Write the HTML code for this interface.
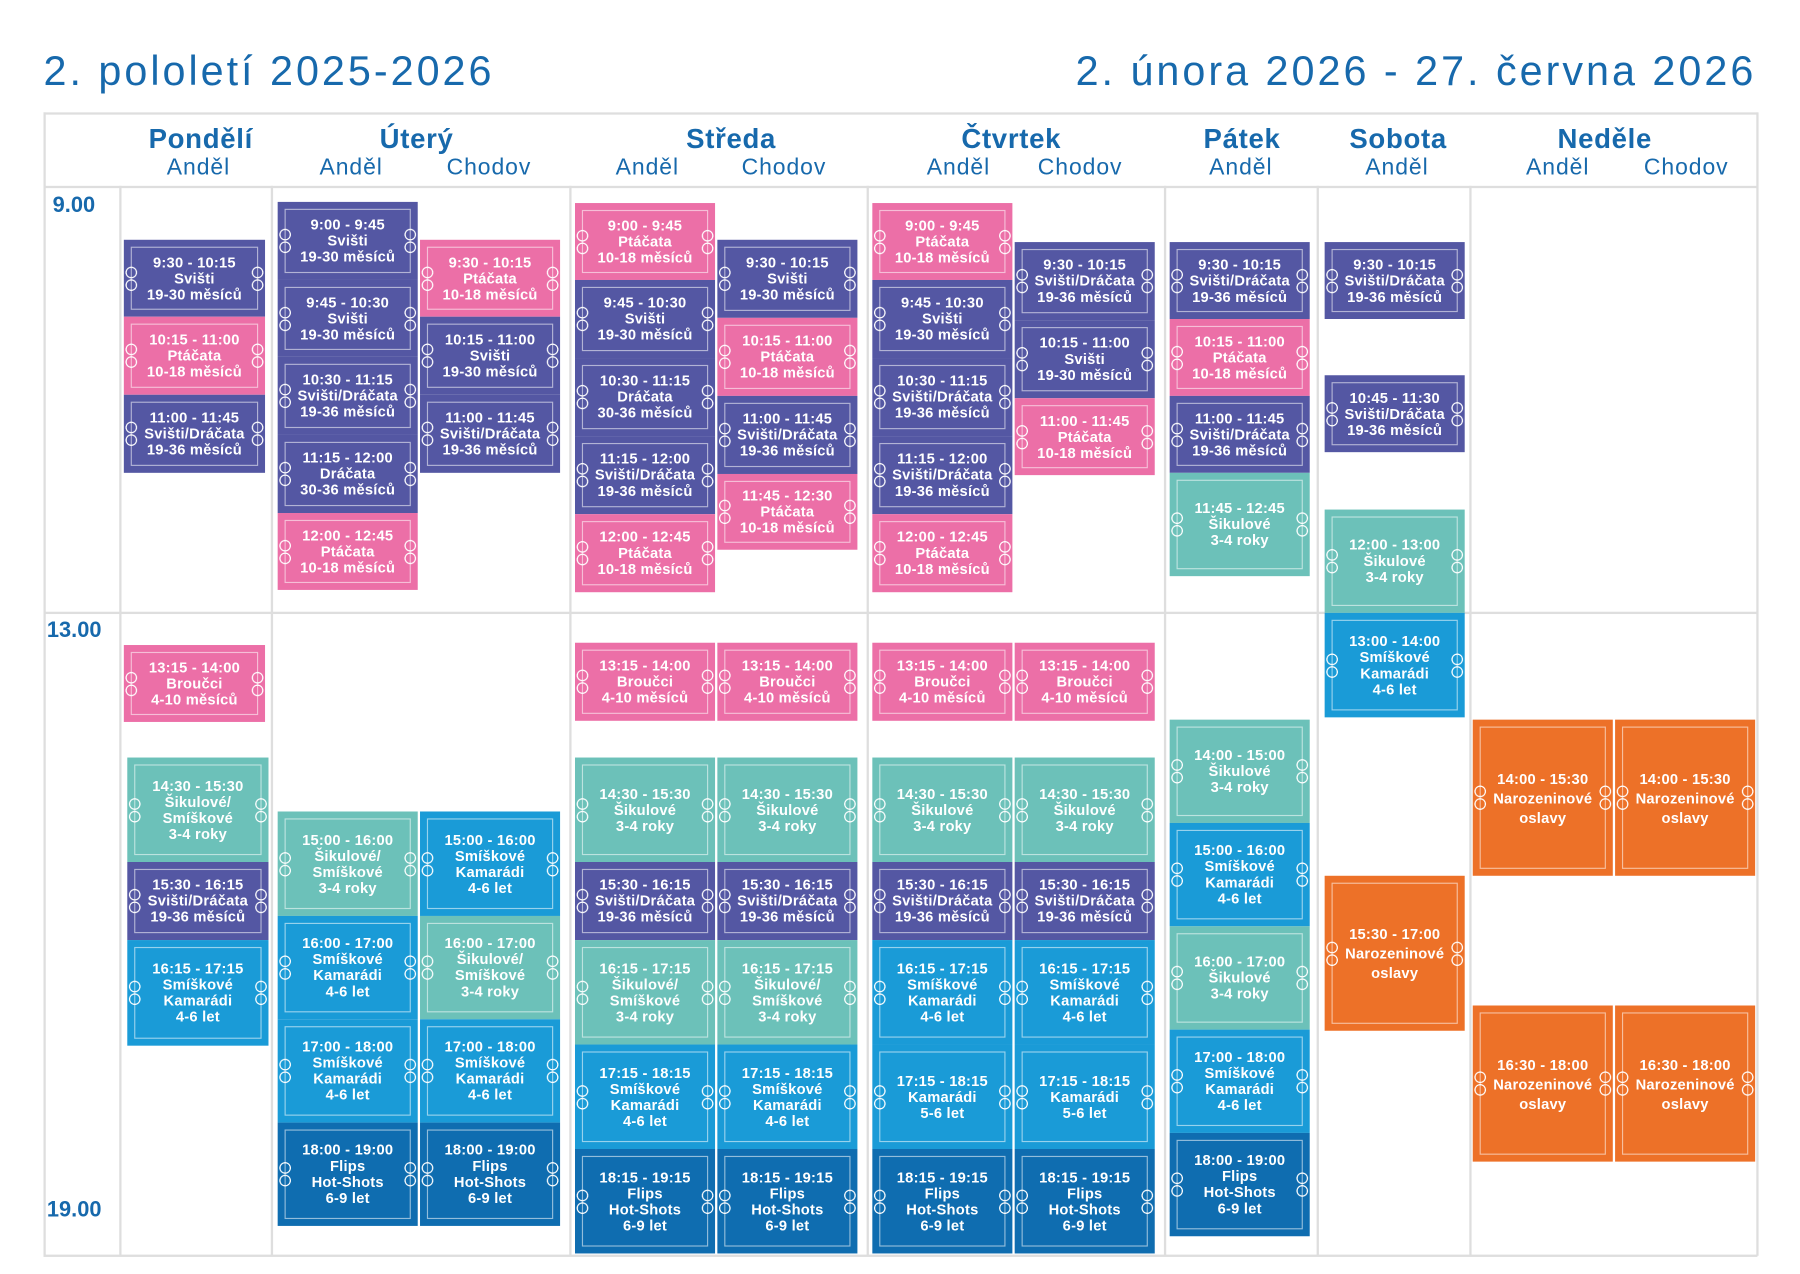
<!DOCTYPE html>
<html><head><meta charset="utf-8">
<style>
html,body{margin:0;padding:0;background:#fff;}
body{width:1800px;height:1273px;overflow:hidden;position:relative;font-family:"Liberation Sans",sans-serif;}
#w{position:absolute;left:0.5px;top:0.5px;width:1568px;height:1109px;transform:scale(1.148);transform-origin:0 0;}
.t{position:absolute;color:#1769ac;white-space:nowrap;}
.h1{font-size:36px;top:40px;letter-spacing:2.6px;}
.dn{font-weight:bold;font-size:24px;top:107px;transform:translateX(-50%);letter-spacing:0.6px;}
.ln{font-size:20px;top:134px;transform:translateX(-50%);letter-spacing:0.8px;}
.tm{font-weight:bold;font-size:19px;}
.ln2{position:absolute;background:#dedede;}
.b{position:absolute;color:#fff;font-weight:bold;font-size:12.8px;line-height:14px;letter-spacing:0.2px;text-align:center;display:flex;align-items:center;justify-content:center;box-sizing:border-box;}
.b::before{content:"";position:absolute;left:6px;right:6px;top:6px;bottom:6px;border:1px solid rgba(255,255,255,0.55);}
.b i{position:absolute;top:50%;margin-top:-11px;width:11px;height:22px;background:radial-gradient(circle at 5.5px 5.5px,transparent 3.9px,#fff 4.1px,#fff 4.9px,transparent 5.2px) 0 0/11px 11px repeat-y;}
.b i.l{left:1px}.b i.r{right:1px}
.b span{position:relative;z-index:1;}
.p{background:#5457a3}.k{background:#ec6fa7}.q{background:#6cc1b9}.L{background:#1a9bd7}.d{background:#0f6db0}.o{background:#ed7128}
.o{font-size:12.8px;line-height:17px}
</style></head><body>
<div id="w">
<div class="t h1" style="left:37px">2. pololetí 2025-2026</div>
<div class="t h1" style="right:39px">2. února 2026 - 27. června 2026</div>

<div class="ln2" style="left:37px;top:97px;width:1493px;height:1.5px"></div>
<div class="ln2" style="left:37px;top:1092px;width:1493px;height:1.5px"></div>
<div class="ln2" style="left:37px;top:97px;width:1.5px;height:996px"></div>
<div class="ln2" style="left:1529px;top:97px;width:1.5px;height:996px"></div>
<div class="ln2" style="left:37px;top:161px;width:1493px;height:1.5px"></div>
<div class="ln2" style="left:37px;top:532px;width:1493px;height:1.5px"></div>
<div class="ln2" style="left:103px;top:161px;width:1.5px;height:932px"></div>
<div class="ln2" style="left:235px;top:161px;width:1.5px;height:932px"></div>
<div class="ln2" style="left:495px;top:161px;width:1.5px;height:932px"></div>
<div class="ln2" style="left:754px;top:161px;width:1.5px;height:932px"></div>
<div class="ln2" style="left:1013px;top:161px;width:1.5px;height:932px"></div>
<div class="ln2" style="left:1146px;top:161px;width:1.5px;height:932px"></div>
<div class="ln2" style="left:1279px;top:161px;width:1.5px;height:932px"></div>

<div class="t dn" style="left:174px">Pondělí</div>
<div class="t dn" style="left:362px">Úterý</div>
<div class="t dn" style="left:636px">Středa</div>
<div class="t dn" style="left:880px">Čtvrtek</div>
<div class="t dn" style="left:1081px">Pátek</div>
<div class="t dn" style="left:1217px">Sobota</div>
<div class="t dn" style="left:1397px">Neděle</div>
<div class="t ln" style="left:172px">Anděl</div>
<div class="t ln" style="left:305px">Anděl</div>
<div class="t ln" style="left:425px">Chodov</div>
<div class="t ln" style="left:563px">Anděl</div>
<div class="t ln" style="left:682px">Chodov</div>
<div class="t ln" style="left:834px">Anděl</div>
<div class="t ln" style="left:940px">Chodov</div>
<div class="t ln" style="left:1080px">Anděl</div>
<div class="t ln" style="left:1216px">Anděl</div>
<div class="t ln" style="left:1356px">Anděl</div>
<div class="t ln" style="left:1468px">Chodov</div>

<div class="t tm" style="left:45px;top:168px">9.00</div>
<div class="t tm" style="left:40px;top:538px">13.00</div>
<div class="t tm" style="left:40px;top:1043px">19.00</div>

<!-- Pondělí -->
<div class="b p" style="left:107px;top:208px;width:123px;height:67px"><i class="l"></i><i class="r"></i><span>9:30 - 10:15<br>Svišti<br>19-30 měsíců</span></div>
<div class="b k" style="left:107px;top:275px;width:123px;height:68px"><i class="l"></i><i class="r"></i><span>10:15 - 11:00<br>Ptáčata<br>10-18 měsíců</span></div>
<div class="b p" style="left:107px;top:343px;width:123px;height:68px"><i class="l"></i><i class="r"></i><span>11:00 - 11:45<br>Svišti/Dráčata<br>19-36 měsíců</span></div>
<div class="b k" style="left:107px;top:561px;width:123px;height:67px"><i class="l"></i><i class="r"></i><span>13:15 - 14:00<br>Broučci<br>4-10 měsíců</span></div>
<div class="b q" style="left:110px;top:659px;width:123px;height:91px"><i class="l"></i><i class="r"></i><span>14:30 - 15:30<br>Šikulové/<br>Smíškové<br>3-4 roky</span></div>
<div class="b p" style="left:110px;top:750px;width:123px;height:68px"><i class="l"></i><i class="r"></i><span>15:30 - 16:15<br>Svišti/Dráčata<br>19-36 měsíců</span></div>
<div class="b L" style="left:110px;top:818px;width:123px;height:92px"><i class="l"></i><i class="r"></i><span>16:15 - 17:15<br>Smíškové<br>Kamarádi<br>4-6 let</span></div>

<!-- Úterý Anděl -->
<div class="b p" style="left:241px;top:175px;width:122px;height:68px"><i class="l"></i><i class="r"></i><span>9:00 - 9:45<br>Svišti<br>19-30 měsíců</span></div>
<div class="b p" style="left:241px;top:243px;width:122px;height:67px"><i class="l"></i><i class="r"></i><span>9:45 - 10:30<br>Svišti<br>19-30 měsíců</span></div>
<div class="b p" style="left:241px;top:310px;width:122px;height:68px"><i class="l"></i><i class="r"></i><span>10:30 - 11:15<br>Svišti/Dráčata<br>19-36 měsíců</span></div>
<div class="b p" style="left:241px;top:378px;width:122px;height:68px"><i class="l"></i><i class="r"></i><span>11:15 - 12:00<br>Dráčata<br>30-36 měsíců</span></div>
<div class="b k" style="left:241px;top:446px;width:122px;height:67px"><i class="l"></i><i class="r"></i><span>12:00 - 12:45<br>Ptáčata<br>10-18 měsíců</span></div>
<div class="b q" style="left:241px;top:706px;width:122px;height:91px"><i class="l"></i><i class="r"></i><span>15:00 - 16:00<br>Šikulové/<br>Smíškové<br>3-4 roky</span></div>
<div class="b L" style="left:241px;top:797px;width:122px;height:90px"><i class="l"></i><i class="r"></i><span>16:00 - 17:00<br>Smíškové<br>Kamarádi<br>4-6 let</span></div>
<div class="b L" style="left:241px;top:887px;width:122px;height:90px"><i class="l"></i><i class="r"></i><span>17:00 - 18:00<br>Smíškové<br>Kamarádi<br>4-6 let</span></div>
<div class="b d" style="left:241px;top:977px;width:122px;height:90px"><i class="l"></i><i class="r"></i><span>18:00 - 19:00<br>Flips<br>Hot-Shots<br>6-9 let</span></div>
<!-- Úterý Chodov -->
<div class="b k" style="left:365px;top:208px;width:122px;height:67px"><i class="l"></i><i class="r"></i><span>9:30 - 10:15<br>Ptáčata<br>10-18 měsíců</span></div>
<div class="b p" style="left:365px;top:275px;width:122px;height:68px"><i class="l"></i><i class="r"></i><span>10:15 - 11:00<br>Svišti<br>19-30 měsíců</span></div>
<div class="b p" style="left:365px;top:343px;width:122px;height:68px"><i class="l"></i><i class="r"></i><span>11:00 - 11:45<br>Svišti/Dráčata<br>19-36 měsíců</span></div>
<div class="b L" style="left:365px;top:706px;width:122px;height:91px"><i class="l"></i><i class="r"></i><span>15:00 - 16:00<br>Smíškové<br>Kamarádi<br>4-6 let</span></div>
<div class="b q" style="left:365px;top:797px;width:122px;height:90px"><i class="l"></i><i class="r"></i><span>16:00 - 17:00<br>Šikulové/<br>Smíškové<br>3-4 roky</span></div>
<div class="b L" style="left:365px;top:887px;width:122px;height:90px"><i class="l"></i><i class="r"></i><span>17:00 - 18:00<br>Smíškové<br>Kamarádi<br>4-6 let</span></div>
<div class="b d" style="left:365px;top:977px;width:122px;height:90px"><i class="l"></i><i class="r"></i><span>18:00 - 19:00<br>Flips<br>Hot-Shots<br>6-9 let</span></div>

<!-- Středa Anděl -->
<div class="b k" style="left:500px;top:176px;width:122px;height:67px"><i class="l"></i><i class="r"></i><span>9:00 - 9:45<br>Ptáčata<br>10-18 měsíců</span></div>
<div class="b p" style="left:500px;top:243px;width:122px;height:68px"><i class="l"></i><i class="r"></i><span>9:45 - 10:30<br>Svišti<br>19-30 měsíců</span></div>
<div class="b p" style="left:500px;top:311px;width:122px;height:68px"><i class="l"></i><i class="r"></i><span>10:30 - 11:15<br>Dráčata<br>30-36 měsíců</span></div>
<div class="b p" style="left:500px;top:379px;width:122px;height:68px"><i class="l"></i><i class="r"></i><span>11:15 - 12:00<br>Svišti/Dráčata<br>19-36 měsíců</span></div>
<div class="b k" style="left:500px;top:447px;width:122px;height:68px"><i class="l"></i><i class="r"></i><span>12:00 - 12:45<br>Ptáčata<br>10-18 měsíců</span></div>
<div class="b k" style="left:500px;top:559px;width:122px;height:68px"><i class="l"></i><i class="r"></i><span>13:15 - 14:00<br>Broučci<br>4-10 měsíců</span></div>
<div class="b q" style="left:500px;top:659px;width:122px;height:91px"><i class="l"></i><i class="r"></i><span>14:30 - 15:30<br>Šikulové<br>3-4 roky</span></div>
<div class="b p" style="left:500px;top:750px;width:122px;height:68px"><i class="l"></i><i class="r"></i><span>15:30 - 16:15<br>Svišti/Dráčata<br>19-36 měsíců</span></div>
<div class="b q" style="left:500px;top:818px;width:122px;height:91px"><i class="l"></i><i class="r"></i><span>16:15 - 17:15<br>Šikulové/<br>Smíškové<br>3-4 roky</span></div>
<div class="b L" style="left:500px;top:909px;width:122px;height:91px"><i class="l"></i><i class="r"></i><span>17:15 - 18:15<br>Smíškové<br>Kamarádi<br>4-6 let</span></div>
<div class="b d" style="left:500px;top:1000px;width:122px;height:91px"><i class="l"></i><i class="r"></i><span>18:15 - 19:15<br>Flips<br>Hot-Shots<br>6-9 let</span></div>
<!-- Středa Chodov -->
<div class="b p" style="left:624px;top:208px;width:122px;height:68px"><i class="l"></i><i class="r"></i><span>9:30 - 10:15<br>Svišti<br>19-30 měsíců</span></div>
<div class="b k" style="left:624px;top:276px;width:122px;height:68px"><i class="l"></i><i class="r"></i><span>10:15 - 11:00<br>Ptáčata<br>10-18 měsíců</span></div>
<div class="b p" style="left:624px;top:344px;width:122px;height:68px"><i class="l"></i><i class="r"></i><span>11:00 - 11:45<br>Svišti/Dráčata<br>19-36 měsíců</span></div>
<div class="b k" style="left:624px;top:412px;width:122px;height:66px"><i class="l"></i><i class="r"></i><span>11:45 - 12:30<br>Ptáčata<br>10-18 měsíců</span></div>
<div class="b k" style="left:624px;top:559px;width:122px;height:68px"><i class="l"></i><i class="r"></i><span>13:15 - 14:00<br>Broučci<br>4-10 měsíců</span></div>
<div class="b q" style="left:624px;top:659px;width:122px;height:91px"><i class="l"></i><i class="r"></i><span>14:30 - 15:30<br>Šikulové<br>3-4 roky</span></div>
<div class="b p" style="left:624px;top:750px;width:122px;height:68px"><i class="l"></i><i class="r"></i><span>15:30 - 16:15<br>Svišti/Dráčata<br>19-36 měsíců</span></div>
<div class="b q" style="left:624px;top:818px;width:122px;height:91px"><i class="l"></i><i class="r"></i><span>16:15 - 17:15<br>Šikulové/<br>Smíškové<br>3-4 roky</span></div>
<div class="b L" style="left:624px;top:909px;width:122px;height:91px"><i class="l"></i><i class="r"></i><span>17:15 - 18:15<br>Smíškové<br>Kamarádi<br>4-6 let</span></div>
<div class="b d" style="left:624px;top:1000px;width:122px;height:91px"><i class="l"></i><i class="r"></i><span>18:15 - 19:15<br>Flips<br>Hot-Shots<br>6-9 let</span></div>

<!-- Čtvrtek Anděl -->
<div class="b k" style="left:759px;top:176px;width:122px;height:67px"><i class="l"></i><i class="r"></i><span>9:00 - 9:45<br>Ptáčata<br>10-18 měsíců</span></div>
<div class="b p" style="left:759px;top:243px;width:122px;height:68px"><i class="l"></i><i class="r"></i><span>9:45 - 10:30<br>Svišti<br>19-30 měsíců</span></div>
<div class="b p" style="left:759px;top:311px;width:122px;height:68px"><i class="l"></i><i class="r"></i><span>10:30 - 11:15<br>Svišti/Dráčata<br>19-36 měsíců</span></div>
<div class="b p" style="left:759px;top:379px;width:122px;height:68px"><i class="l"></i><i class="r"></i><span>11:15 - 12:00<br>Svišti/Dráčata<br>19-36 měsíců</span></div>
<div class="b k" style="left:759px;top:447px;width:122px;height:68px"><i class="l"></i><i class="r"></i><span>12:00 - 12:45<br>Ptáčata<br>10-18 měsíců</span></div>
<div class="b k" style="left:759px;top:559px;width:122px;height:68px"><i class="l"></i><i class="r"></i><span>13:15 - 14:00<br>Broučci<br>4-10 měsíců</span></div>
<div class="b q" style="left:759px;top:659px;width:122px;height:91px"><i class="l"></i><i class="r"></i><span>14:30 - 15:30<br>Šikulové<br>3-4 roky</span></div>
<div class="b p" style="left:759px;top:750px;width:122px;height:68px"><i class="l"></i><i class="r"></i><span>15:30 - 16:15<br>Svišti/Dráčata<br>19-36 měsíců</span></div>
<div class="b L" style="left:759px;top:818px;width:122px;height:91px"><i class="l"></i><i class="r"></i><span>16:15 - 17:15<br>Smíškové<br>Kamarádi<br>4-6 let</span></div>
<div class="b L" style="left:759px;top:909px;width:122px;height:91px"><i class="l"></i><i class="r"></i><span>17:15 - 18:15<br>Kamarádi<br>5-6 let</span></div>
<div class="b d" style="left:759px;top:1000px;width:122px;height:91px"><i class="l"></i><i class="r"></i><span>18:15 - 19:15<br>Flips<br>Hot-Shots<br>6-9 let</span></div>
<!-- Čtvrtek Chodov -->
<div class="b p" style="left:883px;top:210px;width:122px;height:68px"><i class="l"></i><i class="r"></i><span>9:30 - 10:15<br>Svišti/Dráčata<br>19-36 měsíců</span></div>
<div class="b p" style="left:883px;top:278px;width:122px;height:68px"><i class="l"></i><i class="r"></i><span>10:15 - 11:00<br>Svišti<br>19-30 měsíců</span></div>
<div class="b k" style="left:883px;top:346px;width:122px;height:67px"><i class="l"></i><i class="r"></i><span>11:00 - 11:45<br>Ptáčata<br>10-18 měsíců</span></div>
<div class="b k" style="left:883px;top:559px;width:122px;height:68px"><i class="l"></i><i class="r"></i><span>13:15 - 14:00<br>Broučci<br>4-10 měsíců</span></div>
<div class="b q" style="left:883px;top:659px;width:122px;height:91px"><i class="l"></i><i class="r"></i><span>14:30 - 15:30<br>Šikulové<br>3-4 roky</span></div>
<div class="b p" style="left:883px;top:750px;width:122px;height:68px"><i class="l"></i><i class="r"></i><span>15:30 - 16:15<br>Svišti/Dráčata<br>19-36 měsíců</span></div>
<div class="b L" style="left:883px;top:818px;width:122px;height:91px"><i class="l"></i><i class="r"></i><span>16:15 - 17:15<br>Smíškové<br>Kamarádi<br>4-6 let</span></div>
<div class="b L" style="left:883px;top:909px;width:122px;height:91px"><i class="l"></i><i class="r"></i><span>17:15 - 18:15<br>Kamarádi<br>5-6 let</span></div>
<div class="b d" style="left:883px;top:1000px;width:122px;height:91px"><i class="l"></i><i class="r"></i><span>18:15 - 19:15<br>Flips<br>Hot-Shots<br>6-9 let</span></div>

<!-- Pátek -->
<div class="b p" style="left:1018px;top:210px;width:122px;height:67px"><i class="l"></i><i class="r"></i><span>9:30 - 10:15<br>Svišti/Dráčata<br>19-36 měsíců</span></div>
<div class="b k" style="left:1018px;top:277px;width:122px;height:67px"><i class="l"></i><i class="r"></i><span>10:15 - 11:00<br>Ptáčata<br>10-18 měsíců</span></div>
<div class="b p" style="left:1018px;top:344px;width:122px;height:67px"><i class="l"></i><i class="r"></i><span>11:00 - 11:45<br>Svišti/Dráčata<br>19-36 měsíců</span></div>
<div class="b q" style="left:1018px;top:411px;width:122px;height:90px"><i class="l"></i><i class="r"></i><span>11:45 - 12:45<br>Šikulové<br>3-4 roky</span></div>
<div class="b q" style="left:1018px;top:626px;width:122px;height:90px"><i class="l"></i><i class="r"></i><span>14:00 - 15:00<br>Šikulové<br>3-4 roky</span></div>
<div class="b L" style="left:1018px;top:716px;width:122px;height:90px"><i class="l"></i><i class="r"></i><span>15:00 - 16:00<br>Smíškové<br>Kamarádi<br>4-6 let</span></div>
<div class="b q" style="left:1018px;top:806px;width:122px;height:90px"><i class="l"></i><i class="r"></i><span>16:00 - 17:00<br>Šikulové<br>3-4 roky</span></div>
<div class="b L" style="left:1018px;top:896px;width:122px;height:90px"><i class="l"></i><i class="r"></i><span>17:00 - 18:00<br>Smíškové<br>Kamarádi<br>4-6 let</span></div>
<div class="b d" style="left:1018px;top:986px;width:122px;height:90px"><i class="l"></i><i class="r"></i><span>18:00 - 19:00<br>Flips<br>Hot-Shots<br>6-9 let</span></div>

<!-- Sobota -->
<div class="b p" style="left:1153px;top:210px;width:122px;height:67px"><i class="l"></i><i class="r"></i><span>9:30 - 10:15<br>Svišti/Dráčata<br>19-36 měsíců</span></div>
<div class="b p" style="left:1153px;top:326px;width:122px;height:67px"><i class="l"></i><i class="r"></i><span>10:45 - 11:30<br>Svišti/Dráčata<br>19-36 měsíců</span></div>
<div class="b q" style="left:1153px;top:443px;width:122px;height:90px"><i class="l"></i><i class="r"></i><span>12:00 - 13:00<br>Šikulové<br>3-4 roky</span></div>
<div class="b L" style="left:1153px;top:533px;width:122px;height:91px"><i class="l"></i><i class="r"></i><span>13:00 - 14:00<br>Smíškové<br>Kamarádi<br>4-6 let</span></div>
<div class="b o" style="left:1153px;top:762px;width:122px;height:135px"><i class="l"></i><i class="r"></i><span>15:30 - 17:00<br>Narozeninové<br>oslavy</span></div>

<!-- Neděle -->
<div class="b o" style="left:1282px;top:626px;width:122px;height:136px"><i class="l"></i><i class="r"></i><span>14:00 - 15:30<br>Narozeninové<br>oslavy</span></div>
<div class="b o" style="left:1406px;top:626px;width:122px;height:136px"><i class="l"></i><i class="r"></i><span>14:00 - 15:30<br>Narozeninové<br>oslavy</span></div>
<div class="b o" style="left:1282px;top:875px;width:122px;height:136px"><i class="l"></i><i class="r"></i><span>16:30 - 18:00<br>Narozeninové<br>oslavy</span></div>
<div class="b o" style="left:1406px;top:875px;width:122px;height:136px"><i class="l"></i><i class="r"></i><span>16:30 - 18:00<br>Narozeninové<br>oslavy</span></div>
</div>
</body></html>
